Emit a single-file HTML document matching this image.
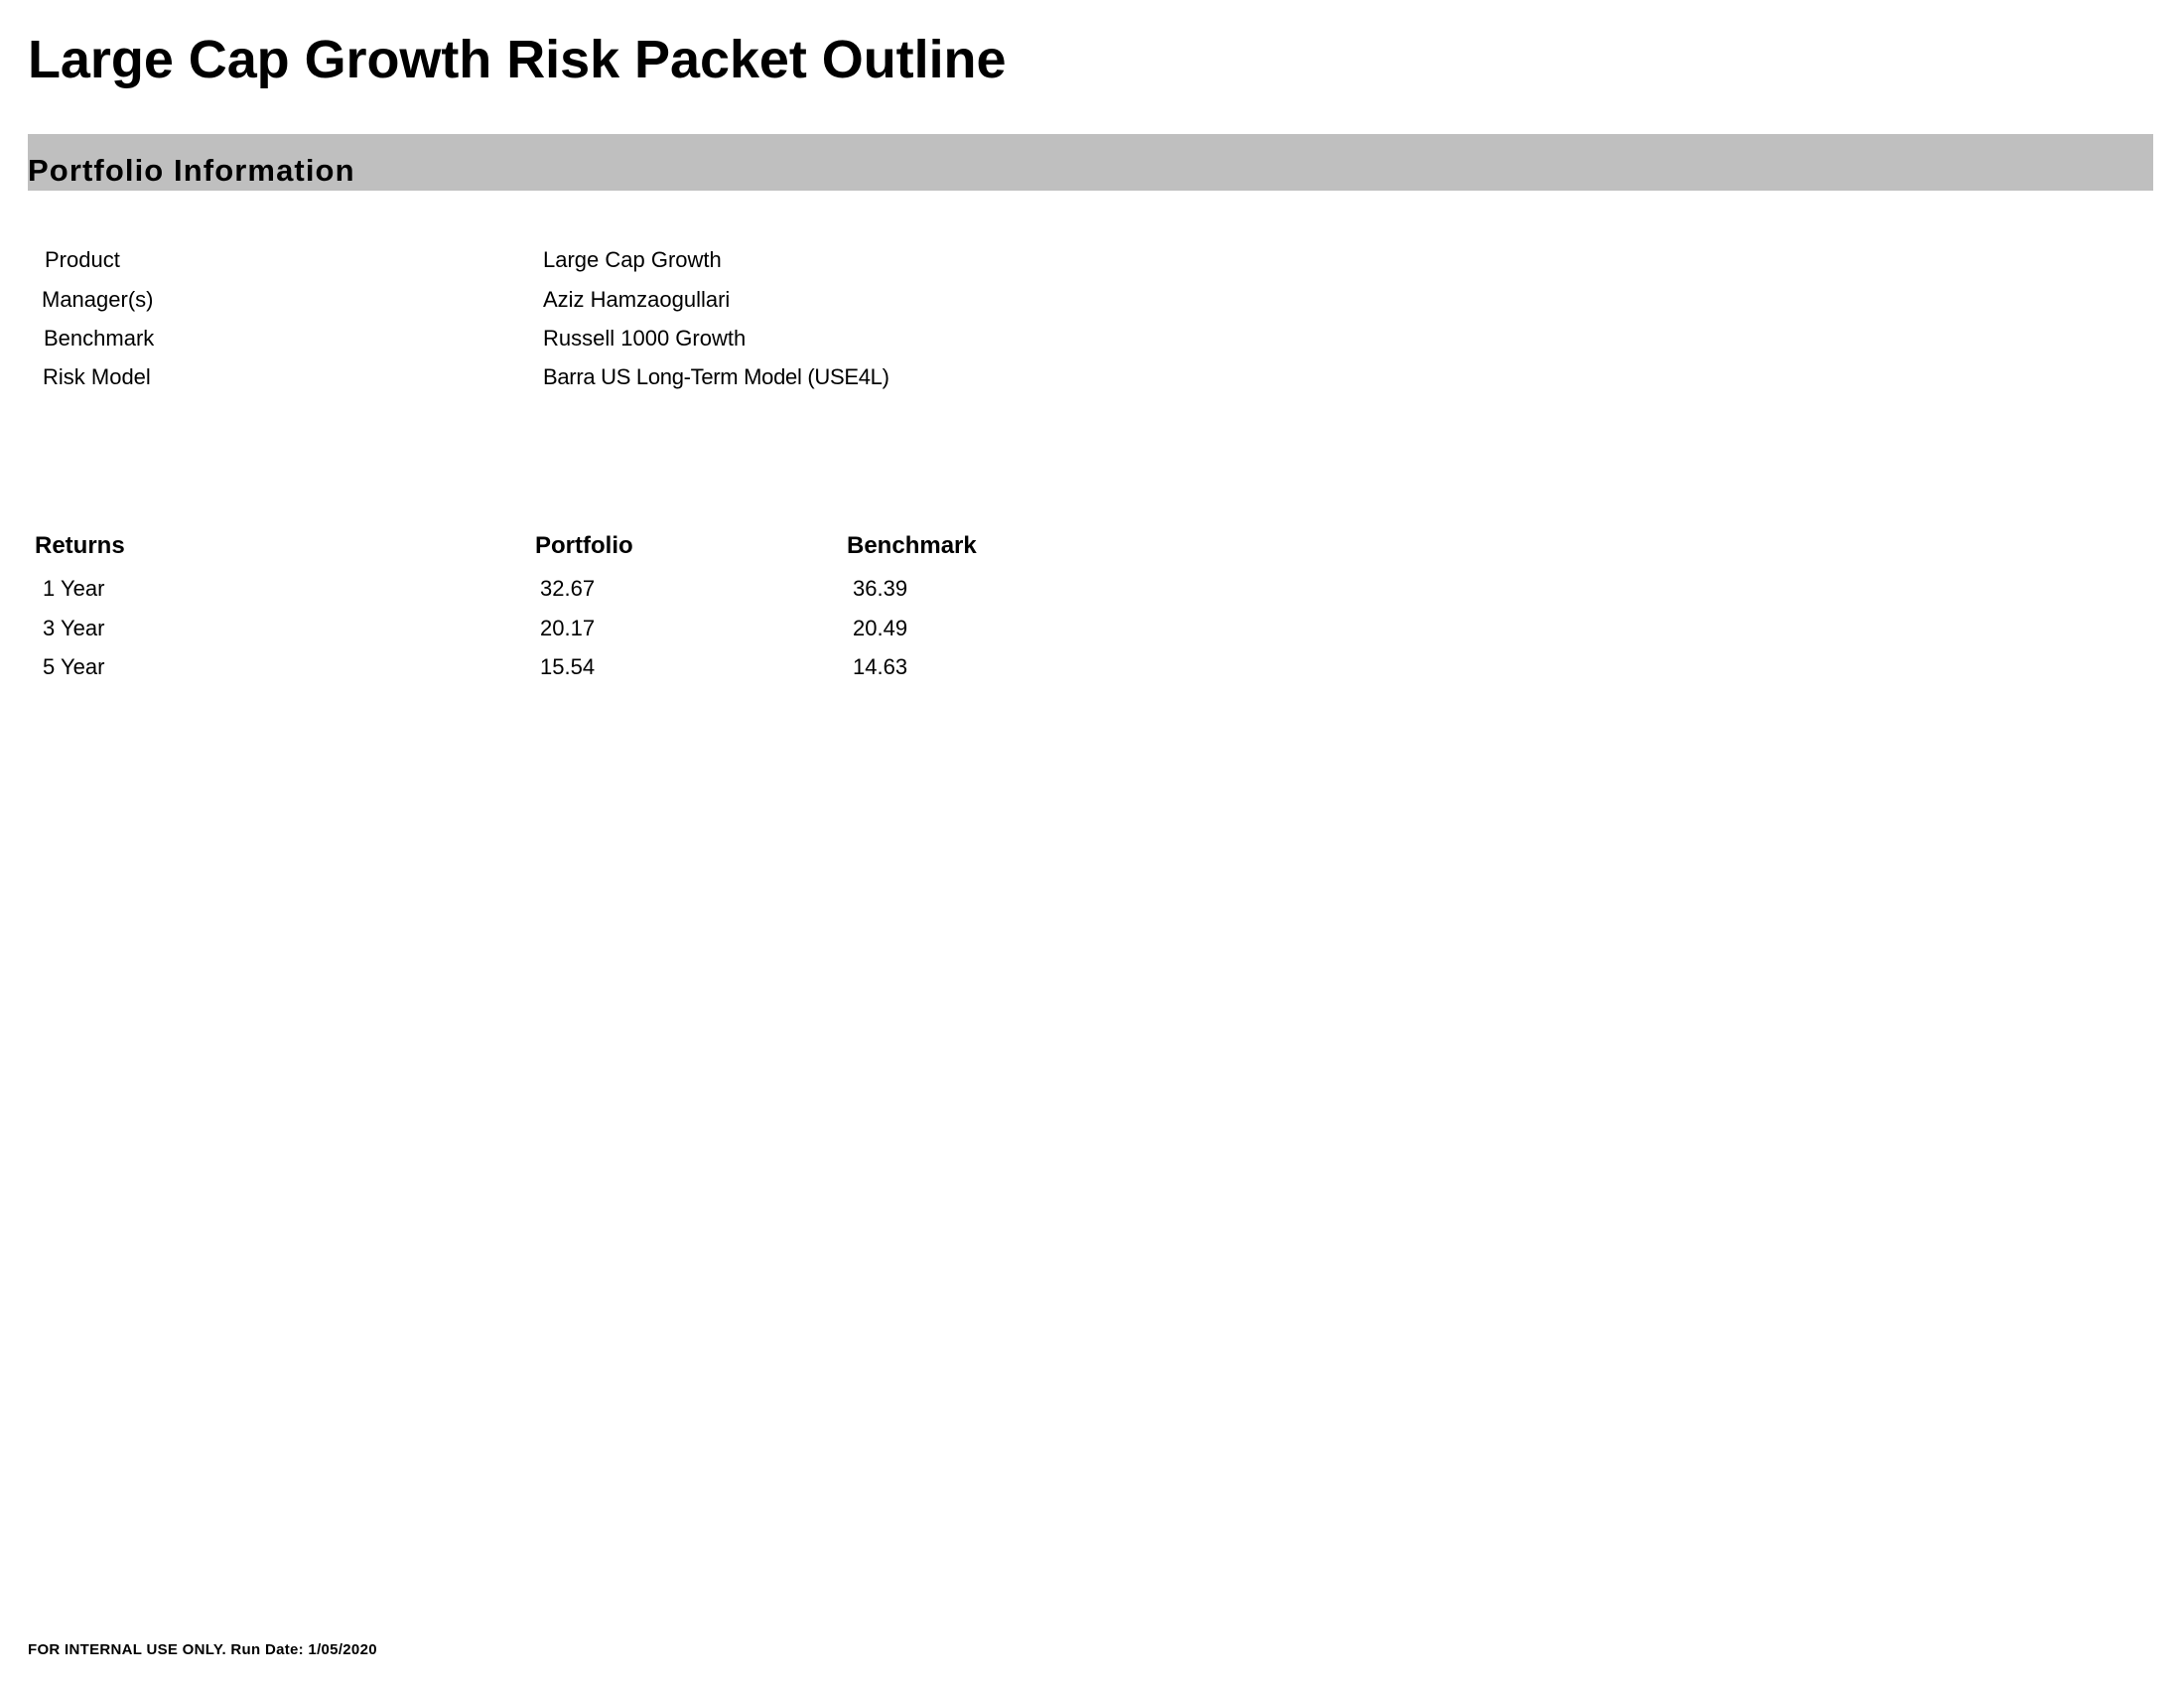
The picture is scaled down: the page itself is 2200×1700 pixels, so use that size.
<!DOCTYPE html>
<html><head><meta charset="utf-8"><style>
html,body{margin:0;padding:0;background:#fff;}
body{width:2200px;height:1700px;position:relative;overflow:hidden;font-family:"Liberation Sans",sans-serif;color:#000;}
.t{position:absolute;line-height:1;white-space:nowrap;}
.r{font-size:22px;}
.h{font-size:24px;font-weight:bold;}
</style></head><body>
<div class="t" style="left:28px;top:33px;font-size:54px;font-weight:bold;letter-spacing:-0.05px;">Large Cap Growth Risk Packet Outline</div>
<div style="position:absolute;left:28px;top:135px;width:2141px;height:57px;background:#bfbfbf;"></div>
<div class="t" style="left:28px;top:156px;font-size:31px;font-weight:bold;letter-spacing:1.1px;">Portfolio Information</div>

<div>
<div class="t r" style="left:45px;top:251px;">Product</div>
<div class="t r" style="left:547px;top:251px;">Large Cap Growth</div>
<div class="t r" style="left:42px;top:291px;">Manager(s)</div>
<div class="t r" style="left:547px;top:291px;">Aziz Hamzaogullari</div>
<div class="t r" style="left:44px;top:330px;">Benchmark</div>
<div class="t r" style="left:547px;top:330px;">Russell 1000 Growth</div>
<div class="t r" style="left:43px;top:369px;">Risk Model</div>
<div class="t r" style="left:547px;top:369px;letter-spacing:-0.3px;">Barra US Long-Term Model (USE4L)</div>
</div>

<div>
<div class="t h" style="left:35px;top:538px;">Returns</div>
<div class="t h" style="left:539px;top:538px;">Portfolio</div>
<div class="t h" style="left:853px;top:538px;">Benchmark</div>
<div class="t r" style="left:43px;top:582px;">1 Year</div>
<div class="t r" style="left:544px;top:582px;">32.67</div>
<div class="t r" style="left:859px;top:582px;">36.39</div>
<div class="t r" style="left:43px;top:622px;">3 Year</div>
<div class="t r" style="left:544px;top:622px;">20.17</div>
<div class="t r" style="left:859px;top:622px;">20.49</div>
<div class="t r" style="left:43px;top:661px;">5 Year</div>
<div class="t r" style="left:544px;top:661px;">15.54</div>
<div class="t r" style="left:859px;top:661px;">14.63</div>
</div>

<div class="t" style="left:28px;top:1654px;font-size:15px;font-weight:bold;letter-spacing:0.3px;">FOR INTERNAL USE ONLY. Run Date: 1/05/2020</div>
</body></html>
